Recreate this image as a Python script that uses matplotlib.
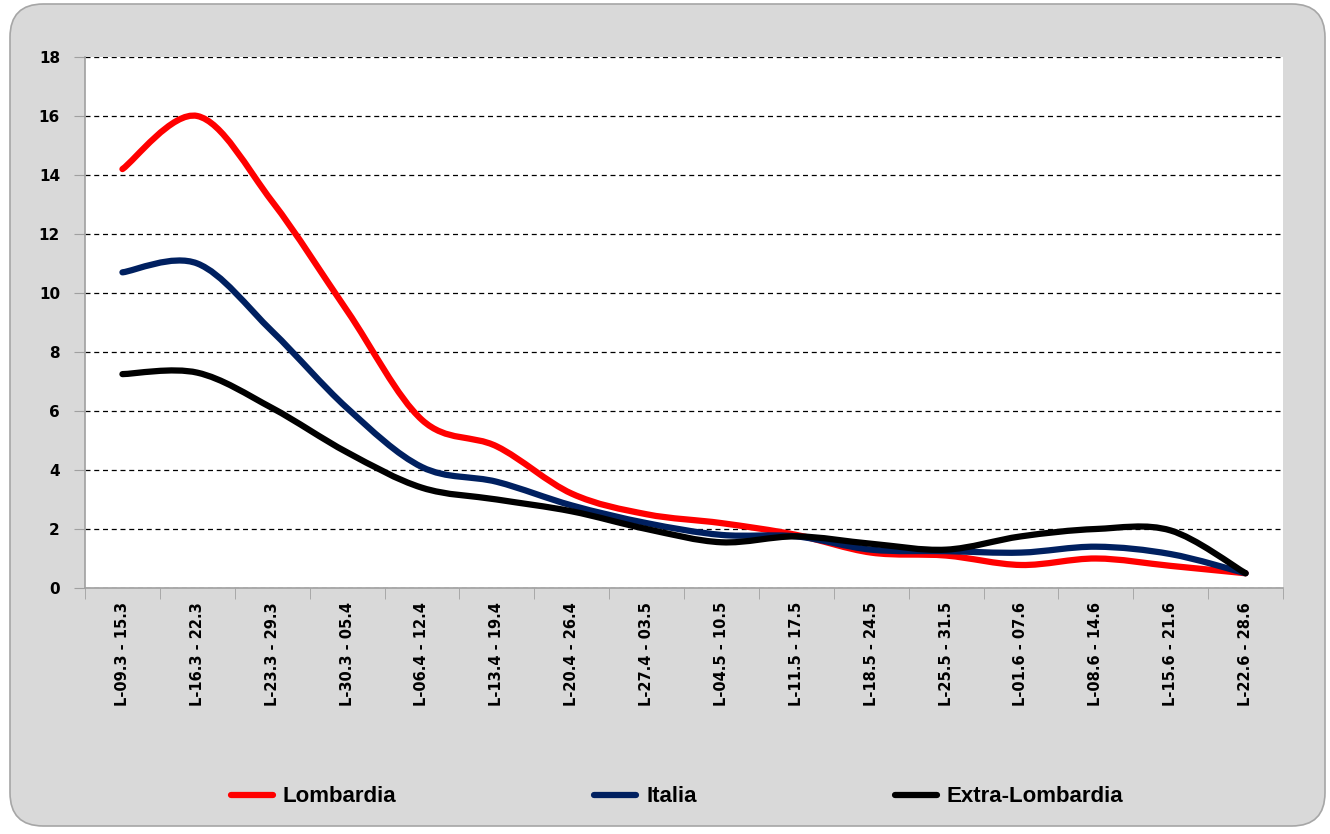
import matplotlib
matplotlib.use("Agg")
import matplotlib.pyplot as plt
import numpy as np
from matplotlib.path import Path
from matplotlib.patches import PathPatch, FancyBboxPatch
from matplotlib.lines import Line2D

categories = ["L-09.3 - 15.3", "L-16.3 - 22.3", "L-23.3 - 29.3", "L-30.3 - 05.4",
              "L-06.4 - 12.4", "L-13.4 - 19.4", "L-20.4 - 26.4", "L-27.4 - 03.5",
              "L-04.5 - 10.5", "L-11.5 - 17.5", "L-18.5 - 24.5", "L-25.5 - 31.5",
              "L-01.6 - 07.6", "L-08.6 - 14.6", "L-15.6 - 21.6", "L-22.6 - 28.6"]
lombardia = [14.2, 16.0, 13.1, 9.4, 5.7, 4.8, 3.2, 2.5, 2.2, 1.8, 1.2, 1.1, 0.78, 1.0, 0.75, 0.5]
italia = [10.7, 11.0, 8.7, 6.1, 4.1, 3.6, 2.8, 2.2, 1.8, 1.75, 1.3, 1.25, 1.2, 1.4, 1.15, 0.5]
extra_lombardia = [7.25, 7.3, 6.1, 4.6, 3.4, 3.0, 2.6, 2.0, 1.55, 1.75, 1.5, 1.3, 1.75, 2.0, 1.95, 0.5]
series_names = ["Lombardia", "Italia", "Extra-Lombardia"]
series_colors = ["#ff0000", "#002060", "#000000"]
yticks = [0, 2, 4, 6, 8, 10, 12, 14, 16, 18]

W, H = 1330, 834
fig = plt.figure(figsize=(W / 100, H / 100), dpi=100)
fig.patch.set_facecolor("white")

bg = FancyBboxPatch((10 / W, 8 / H), (1315) / W, (822) / H,
                    boxstyle="round,pad=0,rounding_size=0.025",
                    transform=fig.transFigure, facecolor="#d9d9d9",
                    edgecolor="#a6a6a6", linewidth=1.2, mutation_aspect=W / H,
                    zorder=-10)
fig.patches.append(bg)

ax = fig.add_axes([85 / W, 1 - 588 / H, (1283 - 85) / W, (588 - 57) / H])
ax.set_zorder(5)
ax.set_facecolor("white")
ax.set_xlim(-0.5, len(categories) - 0.5)
ax.set_ylim(0, 18)


def smooth_path(xs, ys):
    pts = np.column_stack([xs, ys]).astype(float)
    n = len(pts)
    verts = [pts[0]]
    codes = [Path.MOVETO]
    for i in range(n - 1):
        p0 = pts[i - 1] if i > 0 else pts[i]
        p1 = pts[i]
        p2 = pts[i + 1]
        p3 = pts[i + 2] if i + 2 < n else pts[i + 1]
        c1 = p1 + (p2 - p0) / 6.0
        c2 = p2 - (p3 - p1) / 6.0
        verts += [c1, c2, p2]
        codes += [Path.CURVE4] * 3
    return Path(verts, codes)


x = np.arange(len(categories))
for vals, color in zip([lombardia, italia, extra_lombardia], series_colors):
    patch = PathPatch(smooth_path(x, vals), facecolor="none", edgecolor=color,
                      linewidth=4.5, capstyle="round", joinstyle="round", zorder=3)
    ax.add_patch(patch)

ax.set_yticks(yticks)
ax.yaxis.grid(True, color="black", linestyle=(0, (4, 3)), linewidth=0.9)
ax.set_axisbelow(True)
ax.tick_params(axis="y", length=8, color="#a0a0a0", pad=10, labelsize=11)
for lbl in ax.get_yticklabels():
    lbl.set_fontweight("bold")

ax.set_xticks(x)
ax.set_xticklabels(categories, rotation=90, fontsize=10.5, fontweight="bold")
ax.set_xticks(np.arange(-0.5, len(categories)), minor=True)
ax.tick_params(axis="x", which="major", length=0, pad=10)
ax.tick_params(axis="x", which="minor", length=8, color="#a0a0a0")

for s in ["top", "right"]:
    ax.spines[s].set_visible(False)
for s in ["left", "bottom"]:
    ax.spines[s].set_color("#a0a0a0")
    ax.spines[s].set_linewidth(1.2)

handles = [Line2D([0], [0], color=c, linewidth=4.5, solid_capstyle="round") for c in series_colors]
leg = fig.legend(handles, series_names, loc="center", ncol=3,
                 bbox_to_anchor=(677 / W, 1 - 797 / H), frameon=False,
                 prop={"size": 16, "weight": "bold", "family": ["Liberation Sans", "DejaVu Sans"]},
                 handlelength=1.9, handletextpad=0.45, columnspacing=8.9)

fig.savefig("out.png", dpi=100, facecolor=fig.get_facecolor())
